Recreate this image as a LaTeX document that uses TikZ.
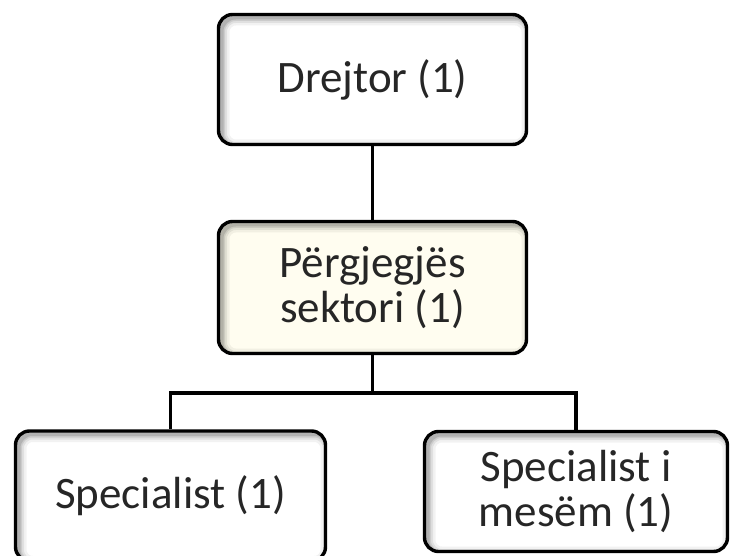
\documentclass[tikz,border=0pt]{standalone}
\usepackage{fontspec}
\setmainfont{Carlito}
\usetikzlibrary{backgrounds}

\definecolor{cream}{RGB}{255,253,240}

\tikzset{
  post/.style={draw,line width=3.4pt,rounded corners=14pt,fill=white,
    align=center,inner sep=0pt,text=black!85,
    font=\fontsize{45}{45}\selectfont,
    path picture={
      \foreach \w/\o in {16/0.05,11/0.07,7/0.09,4/0.12}{
        \draw[line width=\w pt,black,opacity=\o,rounded corners=14pt]
          ([xshift=3pt,yshift=-3pt]path picture bounding box.north west) rectangle
          ([xshift=3pt,yshift=-3pt]path picture bounding box.south east);}}},
  link/.style={line width=3.2pt}
}

\begin{document}
\begin{tikzpicture}[x=1pt,y=-1pt,join=round]
         \useasboundingbox (0,0) rectangle (731,556);
         \node[post,minimum width=308pt,minimum height=130pt] (dir) at (372.5,79.5) {Drejtor (1)};
         \node[post,fill=cream,minimum width=308pt,minimum height=132pt] (pergj) at (372.5,287.5) {Përgjegjës\\sektori (1)};
         \node[post,minimum width=310pt,minimum height=130pt] (spec) at (170.5,496) {Specialist (1)};
         \node[post,minimum width=303pt,minimum height=120pt] (specm) at (576,491.5) {Specialist i\\mesëm (1)};
         \coordinate (bus) at (372.5,393);
         \begin{scope}[on background layer]
           \draw[link] (dir) -- (pergj);
           \draw[link] (pergj) -- (bus);
           \draw[link] (bus) -| (spec);
           \draw[link] (bus) -| (specm);
         \end{scope}
\end{tikzpicture}
\end{document}
